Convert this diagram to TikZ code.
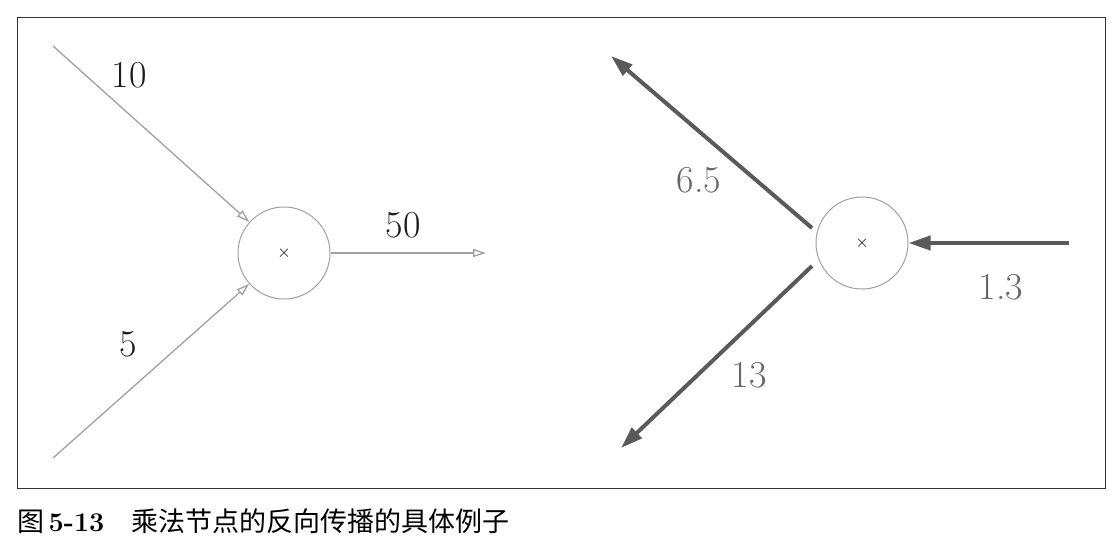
\documentclass[tikz,border=0pt]{standalone}
\usepackage{fontspec}
\newfontfamily\cjk{Noto Sans CJK SC}
\usetikzlibrary{arrows.meta}
\definecolor{thin}{HTML}{A0A0A0}
\definecolor{thick}{HTML}{5A5A5A}
\definecolor{lbl}{HTML}{1E1E1E}
\definecolor{glbl}{HTML}{666666}
\tikzset{
  opnode/.style={circle, draw=thin, line width=1pt, minimum size=92pt, inner sep=0pt, font=\fontsize{19}{19}\selectfont},
  fwd/.style={draw=thin, line width=1.3pt, -{Triangle[open, length=13pt, width=8pt]}},
  bwd/.style={draw=thick, line width=4pt, -{Triangle[length=22pt, width=14pt]}},
  fl/.style={text=lbl, font=\fontsize{38}{38}\selectfont},
  bl/.style={text=glbl, font=\fontsize{38}{38}\selectfont},
}
\begin{document}
\begin{tikzpicture}[x=1pt, y=-1pt]
\useasboundingbox (0,0) rectangle (1119,541);
\node[draw=black!80, line width=1pt, minimum width=1088pt, minimum height=471pt, inner sep=0pt] (frame) at (561,252.5) {};
% left: forward
\node[opnode] (ml) at (284,253) {$\times$};
\coordinate (a10) at (53,46);
\coordinate (a5) at (53,458);
\coordinate (o50) at (486,253);
\draw[fwd] (a10) -- (ml);
\draw[fwd] (a5) -- (ml);
\draw[fwd] (ml) -- (o50);
\node[fl] (t10) at (129,75) {10};
\node[fl] (t5) at (128,344) {5};
\node[fl] (t50) at (403,225) {50};
% right: backward
\node[opnode] (mr) at (862,243) {$\times$};
\coordinate (s65) at (812,228);
\coordinate (e65) at (611,56);
\coordinate (s13) at (812,266);
\coordinate (e13) at (621,448);
\coordinate (i13) at (1069,243);
\draw[bwd] (s65) -- (e65);
\draw[bwd] (s13) -- (e13);
\draw[bwd] (i13) -- (mr.east);
\node[bl] (t65) at (699,180) {6.5};
\node[bl] (t13) at (749,375) {13};
\node[bl] (t1p3) at (1001,287) {1.3};
% caption
\node[anchor=west, inner sep=0pt, font=\fontsize{27}{27}\selectfont] (cap) at (17,521)
  {{\cjk 图}\,\textbf{5-13}\hspace{27pt}{\cjk 乘法节点的反向传播的具体例子}};
\end{tikzpicture}
\end{document}
